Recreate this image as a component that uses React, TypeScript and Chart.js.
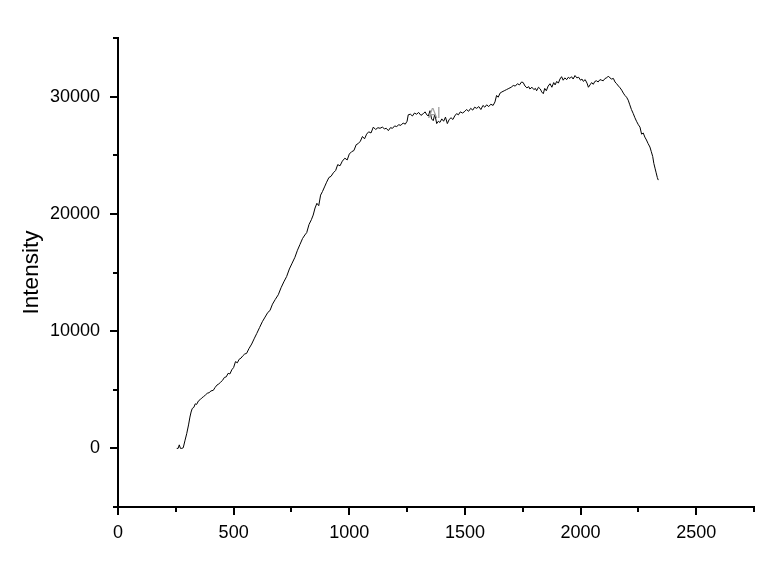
import React, { useEffect, useRef } from "react";
import { Chart, registerables } from "chart.js";

Chart.register(...registerables);

const xValues: number[] = [
  254, 260, 265, 270, 276, 282, 290, 297, 305, 311, 316, 321, 328, 334, 340, 348, 355, 362, 369, 378,
  386, 394, 402, 412, 420, 428, 436, 444, 452, 460, 468, 476, 484, 492, 500, 508, 516, 524, 532, 540,
  548, 556, 566, 578, 590, 600, 612, 624, 636, 648, 657, 668, 680, 693, 705, 717, 729, 741, 753, 765,
  776, 787, 798, 808, 816, 826, 836, 844, 852, 860, 868, 876, 884, 893, 902, 912, 921, 931, 941, 950,
  960, 970, 981, 991, 1000, 1010, 1020, 1030, 1039, 1048, 1057, 1066, 1075, 1084, 1094, 1104, 1114, 1124, 1133, 1143,
  1152, 1160, 1169, 1178, 1187, 1196, 1205, 1214, 1223, 1233, 1242, 1250, 1255, 1264, 1273, 1282, 1291, 1300, 1310, 1320,
  1328, 1335, 1342, 1349, 1356, 1363, 1370, 1378, 1385, 1392, 1400, 1408, 1416, 1424, 1432, 1440, 1448, 1456, 1464, 1472,
  1480, 1490, 1500, 1507, 1516, 1525, 1534, 1542, 1551, 1560, 1569, 1578, 1586, 1594, 1603, 1612, 1622, 1630, 1637, 1644,
  1652, 1660, 1670, 1680, 1690, 1700, 1709, 1718, 1727, 1736, 1745, 1752, 1760, 1768, 1776, 1781, 1790, 1798, 1805, 1810,
  1818, 1826, 1832, 1839, 1845, 1852, 1860, 1868, 1876, 1884, 1890, 1897, 1904, 1911, 1918, 1925, 1932, 1940, 1947, 1954,
  1961, 1968, 1976, 1984, 1992, 2000, 2006, 2012, 2020, 2028, 2034, 2041, 2048, 2055, 2062, 2069, 2076, 2084, 2091, 2098,
  2106, 2113, 2120, 2127, 2134, 2142, 2149, 2156, 2164, 2171, 2178, 2185, 2192, 2199, 2206, 2213, 2220, 2228, 2235, 2242,
  2250, 2257, 2264, 2271, 2278, 2285, 2292, 2300, 2306, 2312, 2317, 2322, 2327, 2332, 2336,
];

const intensityValues: number[] = [
  0, 0, 300, 0, 0, 50, 700, 1250, 2000, 2670, 3100, 3400, 3500, 3800, 3750, 4050, 4150, 4300, 4400, 4550,
  4700, 4750, 4900, 4950, 5200, 5400, 5500, 5650, 5800, 6050, 6100, 6400, 6350, 6700, 6900, 7400, 7300, 7600, 7700, 7900,
  8050, 8100, 8500, 8900, 9400, 9800, 10300, 10800, 11200, 11600, 11750, 12300, 12700, 13100, 13700, 14200, 14650, 15300, 15800, 16300,
  16900, 17400, 17900, 18200, 18400, 19100, 19500, 19900, 20500, 20900, 20700, 21600, 21900, 22300, 22700, 23100, 23200, 23500, 23700, 24200,
  24100, 24500, 24750, 24600, 25100, 25300, 25400, 25900, 26000, 26200, 26600, 26400, 26800, 27000, 26900, 27400, 27200, 27350, 27300, 27400,
  27250, 27300, 27100, 27350, 27300, 27500, 27450, 27600, 27550, 27750, 27650, 27900, 28450, 28500, 28350, 28600, 28500, 28650, 28400, 28550,
  28700, 28450, 28350, 28800, 28100, 27950, 28500, 27700, 27900, 27800, 28100, 27900, 28250, 27700, 28050, 28200, 28050, 28350, 28550, 28450,
  28700, 28600, 28750, 28900, 28750, 29000, 28850, 29100, 29000, 29150, 28900, 29250, 29100, 29300, 29150, 29350, 29250, 29550, 30100, 29950,
  30300, 30400, 30500, 30600, 30700, 30800, 30950, 30900, 31100, 31000, 31250, 31200, 30900, 30750, 30850, 30650, 30800, 30600, 30700, 30500,
  30800, 30650, 30400, 30250, 30700, 30500, 30900, 31100, 30800, 31200, 31000, 31300, 31150, 31500, 31700, 31400, 31600, 31450, 31650, 31550,
  31700, 31500, 31800, 31600, 31650, 31400, 31500, 31300, 31450, 31150, 30800, 31000, 31200, 31050, 31300, 31350, 31250, 31450, 31400, 31350,
  31550, 31600, 31750, 31600, 31500, 31550, 31250, 31100, 30900, 30750, 30550, 30300, 30100, 29950, 29700, 29300, 28900, 28550, 28200, 27900,
  27600, 27400, 26800, 26900, 26550, 26300, 26000, 25700, 25300, 24900, 24300, 23900, 23500, 23100, 22880,
];

const xMajorTicks: number[] = [0, 500, 1000, 1500, 2000, 2500];
const xMinorTicks: number[] = [250, 750, 1250, 1750, 2250, 2750];
const yMajorTicks: number[] = [0, 10000, 20000, 30000];
const yMinorTicks: number[] = [-5000, 5000, 15000, 25000, 35000];

const yAxisTitle = "Intensity";
const annotationText = "Al";
const annotationX = 1340;
const annotationY = 28170;

const FONT = "'Liberation Sans', Arial, sans-serif";

const tickPlugin = {
  id: "originTicks",
  afterDraw(chart: any) {
    const { ctx, chartArea, scales } = chart;
    const xs = scales.x;
    const ys = scales.y;
    ctx.save();
    ctx.strokeStyle = "#000";
    ctx.lineWidth = 2;
    ctx.beginPath();
    xMajorTicks.forEach((v) => {
      const p = Math.round(xs.getPixelForValue(v));
      ctx.moveTo(p, chartArea.bottom);
      ctx.lineTo(p, chartArea.bottom + 8);
    });
    xMinorTicks.forEach((v) => {
      const p = Math.round(xs.getPixelForValue(v));
      ctx.moveTo(p, chartArea.bottom);
      ctx.lineTo(p, chartArea.bottom + 5);
    });
    yMajorTicks.forEach((v) => {
      const p = Math.round(ys.getPixelForValue(v));
      ctx.moveTo(chartArea.left, p);
      ctx.lineTo(chartArea.left - 8, p);
    });
    yMinorTicks.forEach((v) => {
      const p = Math.round(ys.getPixelForValue(v));
      ctx.moveTo(chartArea.left, p);
      ctx.lineTo(chartArea.left - 5, p);
    });
    ctx.stroke();
    ctx.fillStyle = "#a0a0a0";
    ctx.font = `14px ${FONT}`;
    ctx.textAlign = "left";
    ctx.textBaseline = "alphabetic";
    ctx.fillText(annotationText, xs.getPixelForValue(annotationX), ys.getPixelForValue(annotationY));
    ctx.restore();
  },
};

export default function App() {
  const canvasRef = useRef<HTMLCanvasElement | null>(null);

  useEffect(() => {
    if (!canvasRef.current) return;
    const data = xValues.map((x, i) => ({ x, y: intensityValues[i] }));
    const chart = new Chart(canvasRef.current, {
      type: "line",
      data: {
        datasets: [
          {
            data,
            borderColor: "#000",
            borderWidth: 1,
            pointRadius: 0,
            tension: 0,
            fill: false,
          },
        ],
      },
      options: {
        animation: false,
        responsive: false,
        devicePixelRatio: 1,
        layout: { padding: { left: 0, right: 28, top: 38, bottom: 0 } },
        plugins: { legend: { display: false }, tooltip: { enabled: false }, title: { display: false } },
        scales: {
          x: {
            type: "linear",
            min: 0,
            max: 2750,
            position: "bottom",
            afterFit: (scale: any) => {
              scale.height = 55;
            },
            afterBuildTicks: (scale: any) => {
              scale.ticks = [...xMajorTicks, ...xMinorTicks].sort((a, b) => a - b).map((v) => ({ value: v }));
            },
            ticks: {
              autoSkip: false,
              maxRotation: 0,
              padding: 15,
              color: "#000",
              font: { family: FONT, size: 18 },
              callback: (v: any) => (xMajorTicks.includes(Number(v)) ? String(v) : ""),
            },
            grid: { display: true, drawOnChartArea: false, drawTicks: false },
            border: { display: true, color: "#000", width: 2 },
          },
          y: {
            type: "linear",
            min: -5000,
            max: 35000,
            afterFit: (scale: any) => {
              scale.width = 118;
            },
            afterBuildTicks: (scale: any) => {
              scale.ticks = [...yMajorTicks, ...yMinorTicks].sort((a, b) => a - b).map((v) => ({ value: v }));
            },
            ticks: {
              autoSkip: false,
              padding: 18,
              color: "#000",
              font: { family: FONT, size: 18 },
              callback: (v: any) => (yMajorTicks.includes(Number(v)) ? String(v) : ""),
            },
            title: {
              display: true,
              text: yAxisTitle,
              color: "#000",
              font: { family: FONT, size: 22.5 },
              padding: { top: 18, bottom: 0 },
            },
            grid: { display: true, drawOnChartArea: false, drawTicks: false },
            border: { display: true, color: "#000", width: 2 },
          },
        },
      },
      plugins: [tickPlugin],
    });
    return () => chart.destroy();
  }, []);

  return (
    <div style={{ position: "absolute", left: 0, top: 0, width: 782, height: 562, background: "#fff" }}>
      <canvas ref={canvasRef} width={782} height={562} style={{ display: "block" }} />
    </div>
  );
}
